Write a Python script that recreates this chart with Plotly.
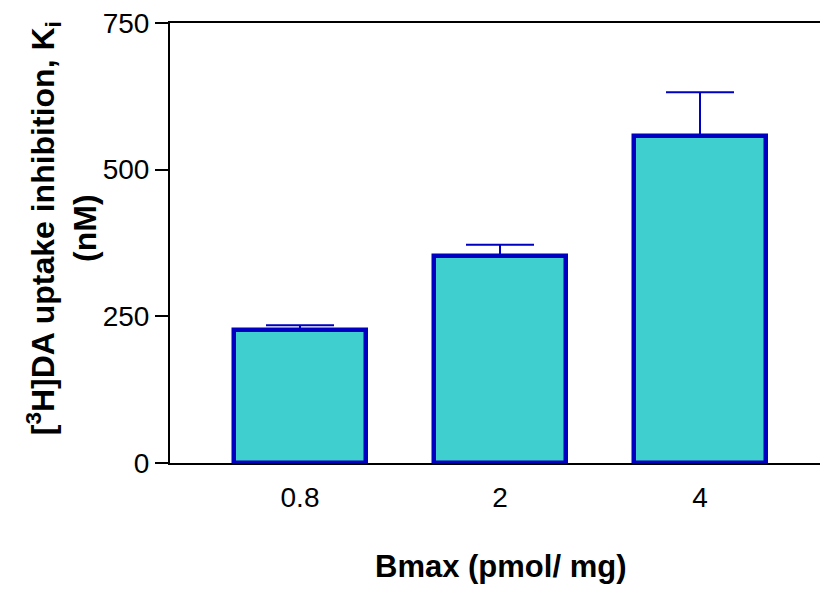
import plotly.graph_objects as go

categories = ["0.8", "2", "4"]
ki_values = [227, 352, 558]
ki_errors = [8, 20, 74]
y_ticks = [0, 250, 500, 750]

FILL = "#40CFCF"
EDGE = "#0000C0"
FONT = "Liberation Sans, Arial, sans-serif"

fig = go.Figure()
fig.add_trace(go.Bar(
    x=categories,
    y=ki_values,
    width=0.66,
    marker=dict(color=FILL, line=dict(color=EDGE, width=4.5)),
    error_y=dict(type="data", array=ki_errors, arrayminus=[0] * len(ki_errors),
                 symmetric=False, color=EDGE, thickness=2, width=34),
    showlegend=False,
))

fig.update_layout(
    width=820, height=589,
    margin=dict(l=170, r=0, t=23, b=126),
    plot_bgcolor="white", paper_bgcolor="white",
    font=dict(family=FONT, color="black", size=29),
    bargap=0,
    xaxis=dict(
        type="category",
        range=[-0.65, 2.6],
        automargin=False,
        showline=True, linecolor="black", linewidth=2,
        mirror=True,
        ticks="outside", ticklen=8, tickcolor="rgba(0,0,0,0)",
        showgrid=False, zeroline=False,
        tickfont=dict(size=28),
    ),
    yaxis=dict(
        range=[0, 750],
        tickvals=y_ticks,
        automargin=False,
        showline=True, linecolor="black", linewidth=2,
        ticks="outside", ticklen=13, tickwidth=2, tickcolor="black",
        showgrid=False, zeroline=False,
        tickfont=dict(size=28),
    ),
    annotations=[
        dict(
            text="<b>[<sup>3</sup>H]DA uptake inhibition, K<sub>i</sub><br>(nM)</b>",
            xref="paper", yref="paper", x=-0.166, y=0.534,
            xanchor="center", yanchor="middle", textangle=-90,
            showarrow=False, font=dict(size=32),
        ),
        dict(
            text="<b>Bmax (pmol/ mg)</b>",
            xref="paper", yref="paper", x=0.508, y=-0.236,
            xanchor="center", yanchor="middle",
            showarrow=False, font=dict(size=31),
        ),
    ],
)

fig.write_html("out.html")
